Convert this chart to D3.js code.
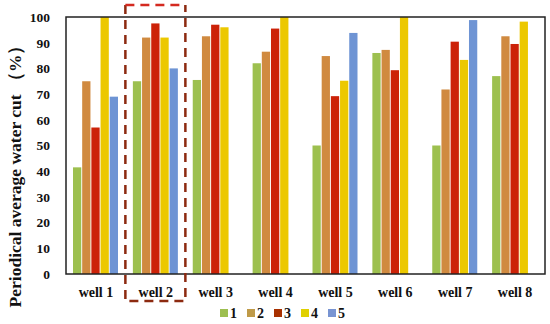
<!DOCTYPE html>
<html>
<head>
<meta charset="utf-8">
<script src="https://d3js.org/d3.v7.min.js"></script>
<style>
  body { margin: 0; background: #fff; }
</style>
</head>
<body>
<div id="chart"></div>
<script>
// data
var wells = ['well 1', 'well 2', 'well 3', 'well 4', 'well 5', 'well 6', 'well 7', 'well 8'];
var seriesNames = ['1', '2', '3', '4', '5'];
var s1 = [41.5, 75, 75.5, 82, 50, 86, 50, 77];
var s2 = [75, 92, 92.5, 86.5, 84.8, 87.2, 71.8, 92.5];
var s3 = [57, 97.5, 97, 95.5, 69.2, 79.3, 90.4, 89.5];
var s4 = [100, 92, 96, 100, 75.2, 100, 83.3, 98.2];
var s5 = [69, 80, null, null, 93.8, null, 98.8, null];
var yTicks = [0, 10, 20, 30, 40, 50, 60, 70, 80, 90, 100];
var colors = ['#9dc04f', '#d08a40', '#cc2208', '#ecc800', '#6e94d4'];
var legendColors = ['#9dbf50', '#bf9a48', '#a83000', '#e0d000', '#7894d2'];

var allSeries = [s1, s2, s3, s4, s5];
var serif = '"Liberation Serif", "Times New Roman", "DejaVu Serif", serif';

var W = 550, H = 324;
var margin = { top: 17, right: 5, bottom: 50, left: 66 };
var width = W - margin.left - margin.right;
var height = H - margin.top - margin.bottom;

var svg = d3.select('#chart').append('svg')
  .attr('width', W)
  .attr('height', H);

var g = svg.append('g')
  .attr('transform', 'translate(' + margin.left + ',' + margin.top + ')');

//scales..........................
var x0 = d3.scaleBand().domain(wells).range([0, width]);
var x1 = d3.scaleBand().domain(seriesNames).range([7, 52]).paddingInner(0.1);
var y = d3.scaleLinear().domain([0, 100]).range([height, 0]);

//bars..........................
var rows = [];
wells.forEach(function(w, i) {
  seriesNames.forEach(function(s, j) {
    if (allSeries[j][i] != null) rows.push({ well: w, s: s, j: j, v: allSeries[j][i] });
  });
});

g.selectAll('rect.bar')
  .data(rows)
  .enter().append('rect')
  .attr('class', 'bar')
  .attr('x', d => x0(d.well) + x1(d.s))
  .attr('width', x1.bandwidth())
  .attr('y', d => y(d.v))
  .attr('height', d => height - y(d.v))
  .attr('fill', d => colors[d.j]);

//frame..........................
g.append('rect')
  .attr('width', width)
  .attr('height', height)
  .attr('fill', 'none')
  .attr('stroke', '#222')
  .attr('stroke-width', 1.5);

//axes..........................
var yAxis = d3.axisLeft(y).tickValues(yTicks).tickSize(0).tickPadding(16);
var yG = g.append('g').call(yAxis);
yG.select('.domain').remove();
yG.attr('font-family', null);
yG.selectAll('text')
  .style('font-family', serif).style('font-weight', 'bold')
  .style('font-size', '13.5px').style('fill', '#111');

var xAxis = d3.axisBottom(x0).tickSize(0).tickPadding(13);
var xG = g.append('g').attr('transform', 'translate(0,' + height + ')').call(xAxis);
xG.select('.domain').remove();
xG.attr('font-family', null);
xG.selectAll('text')
  .style('font-family', serif).style('font-weight', 'bold')
  .style('font-size', '14px').style('fill', '#111');

svg.append('text')
  .attr('transform', 'translate(21,172) rotate(-90)')
  .attr('text-anchor', 'middle')
  .style('font-family', serif).style('font-weight', 'bold')
  .style('font-size', '17.5px').style('fill', '#111')
  .text('Periodical average water cut （%）');

//dashed highlight box..........................
var bx = x0('well 2') - 0.5 + margin.left, bw = 60;
var by = 5, bh = 296;
svg.append('path')
  .attr('d', 'M' + bx + ',' + by + 'V' + (by + bh) + 'H' + (bx + bw) + 'V' + by)
  .attr('fill', 'none')
  .attr('stroke', '#8c2a10')
  .attr('stroke-width', 2.5)
  .attr('stroke-dasharray', '9,6');
svg.append('line')
  .attr('x1', bx).attr('x2', bx + bw)
  .attr('y1', by).attr('y2', by)
  .attr('stroke', '#d42a20')
  .attr('stroke-width', 2.5)
  .attr('stroke-dasharray', '9,6');

//legend..........................
var legend = svg.append('g').attr('transform', 'translate(220,313)');
var items = legend.selectAll('g')
  .data(seriesNames)
  .enter().append('g')
  .attr('transform', (d, i) => 'translate(' + i * 27 + ',0)');
items.append('rect')
  .attr('x', 0).attr('y', -4)
  .attr('width', 8).attr('height', 8)
  .attr('fill', (d, i) => legendColors[i]);
items.append('text')
  .attr('x', 10).attr('y', 5)
  .style('font-family', serif).style('font-weight', 'bold')
  .style('font-size', '14px').style('fill', '#111')
  .text(d => d);
</script>
</body>
</html>
